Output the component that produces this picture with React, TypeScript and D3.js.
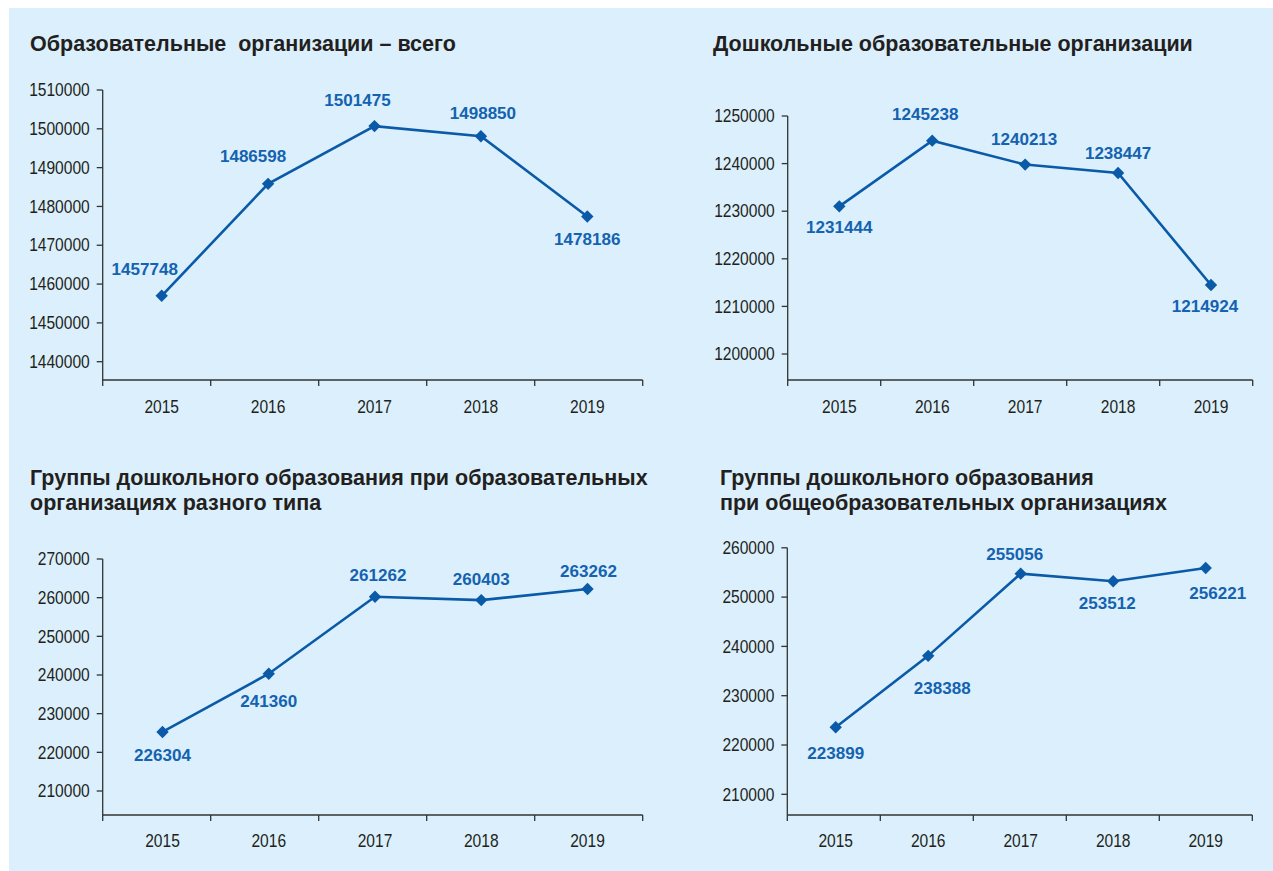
import React from 'react';
import * as d3 from 'd3';

const years = ['2015', '2016', '2017', '2018', '2019'];

const totalOrgs = [1457748, 1486598, 1501475, 1498850, 1478186];
const preschoolOrgs = [1231444, 1245238, 1240213, 1238447, 1214924];
const groupsVarious = [226304, 241360, 261262, 260403, 263262];
const groupsGeneral = [223899, 238388, 255056, 253512, 256221];

const ticksTotal = [1440000, 1450000, 1460000, 1470000, 1480000, 1490000, 1500000, 1510000];
const ticksPreschool = [1200000, 1210000, 1220000, 1230000, 1240000, 1250000];
const ticksVarious = [210000, 220000, 230000, 240000, 250000, 260000, 270000];
const ticksGeneral = [210000, 220000, 230000, 240000, 250000, 260000];

const titleTotal = ['Образовательные  организации – всего'];
const titlePreschool = ['Дошкольные образовательные организации'];
const titleVarious = ['Группы дошкольного образования при образовательных', 'организациях разного типа'];
const titleGeneral = ['Группы дошкольного образования', 'при общеобразовательных организациях'];

const BG = '#dbf0fc';
const LINE = '#0a5aa8';
const LABEL = '#1462b0';
const TEXT = '#231f20';
const FONT = '"Liberation Sans", Arial, Helvetica, sans-serif';

type Cfg = {
  title: string[];
  titleX: number;
  titleY: number;
  values: number[];
  ticks: number[];
  x0: number;
  x1: number;
  axisY: number;
  yRange: [number, number];
  pointRange: [number, number];
  lineDy: number;
  labelOff: [number, number][];
  yearY: number;
};

const charts: Cfg[] = [
  {
    title: titleTotal, titleX: 30, titleY: 51,
    values: totalOrgs, ticks: ticksTotal,
    x0: 102.7, x1: 642.7, axisY: 380, yRange: [361.7, 90],
    pointRange: [161.7, 587.3], lineDy: 3,
    labelOff: [[-17, -21], [-15, -22], [-17, -20], [2, -17], [0, 29]],
    yearY: 413,
  },
  {
    title: titlePreschool, titleX: 713, titleY: 51,
    values: preschoolOrgs, ticks: ticksPreschool,
    x0: 787.7, x1: 1252.7, axisY: 380, yRange: [354, 116],
    pointRange: [839.3, 1211], lineDy: 2,
    labelOff: [[0, 27], [-7, -21], [-1, -20], [0, -14], [-6, 27]],
    yearY: 413,
  },
  {
    title: titleVarious, titleX: 30, titleY: 485,
    values: groupsVarious, ticks: ticksVarious,
    x0: 102.7, x1: 642.7, axisY: 815, yRange: [791, 559],
    pointRange: [162.5, 587.5], lineDy: 4,
    labelOff: [[0, 29], [0, 33], [3, -16], [0, -15], [1, -12]],
    yearY: 847,
  },
  {
    title: titleGeneral, titleX: 720, titleY: 485,
    values: groupsGeneral, ticks: ticksGeneral,
    x0: 787.3, x1: 1252.3, axisY: 815, yRange: [794.3, 547.8],
    pointRange: [835.7, 1205.7], lineDy: 1.5,
    labelOff: [[0, 32], [14, 38], [-6, -14], [-6, 28], [12, 31]],
    yearY: 847,
  },
];

function SText({
  x, y, children, anchor = 'start', size = 16, weight = 'normal', fill = TEXT, sx = 1,
}: {
  x: number; y: number; children: React.ReactNode; anchor?: string; size?: number;
  weight?: string; fill?: string; sx?: number;
}) {
  return (
    <text
      transform={`translate(${x},${y}) scale(${sx},1)`}
      textAnchor={anchor}
      fontFamily={FONT}
      fontSize={size}
      fontWeight={weight}
      fill={fill}
      style={{ whiteSpace: 'pre' }}
    >
      {children}
    </text>
  );
}

function Chart({ c }: { c: Cfg }) {
  const yAxis = d3
    .scaleLinear()
    .domain([c.ticks[0], c.ticks[c.ticks.length - 1]])
    .range(c.yRange);
  const band = d3.scaleBand<string>().domain(years).range([c.x0, c.x1]).padding(0);
  const px = d3.scalePoint<string>().domain(years).range(c.pointRange);
  const py = (v: number) => yAxis(v) + c.lineDy;
  const line = d3
    .line<number>()
    .x((_, i) => px(years[i]) as number)
    .y((v) => py(v));
  const topY = yAxis(c.ticks[c.ticks.length - 1]);
  const boundaries = years.map((y) => band(y) as number).concat([c.x1]);
  const diamond = d3.symbol().type(d3.symbolDiamond2).size(98)();

  return (
    <g>
      {c.title.map((t, i) => (
        <SText key={i} x={c.titleX} y={c.titleY + i * 25} size={21.5} weight="bold">
          {t}
        </SText>
      ))}
      {/* y axis */}
      <line x1={c.x0} x2={c.x0} y1={topY} y2={c.axisY} stroke="#333" strokeWidth={1.3} />
      {c.ticks.map((t) => (
        <g key={t}>
          <line x1={c.x0 - 6} x2={c.x0} y1={yAxis(t)} y2={yAxis(t)} stroke="#333" strokeWidth={1.3} />
          <SText x={c.x0 - 13} y={yAxis(t) + 6.2} anchor="end" size={17.5} sx={0.89}>
            {t}
          </SText>
        </g>
      ))}
      {/* x axis */}
      <line x1={c.x0} x2={c.x1} y1={c.axisY} y2={c.axisY} stroke="#333" strokeWidth={1.3} />
      {boundaries.map((b, i) => (
        <line key={i} x1={b} x2={b} y1={c.axisY} y2={c.axisY + 6} stroke="#333" strokeWidth={1.3} />
      ))}
      {years.map((y) => (
        <SText key={y} x={px(y) as number} y={c.yearY} anchor="middle" size={17.5} sx={0.89}>
          {y}
        </SText>
      ))}
      {/* series */}
      <path d={line(c.values) || ''} fill="none" stroke={LINE} strokeWidth={2.6} />
      {c.values.map((v, i) => (
        <path
          key={i}
          d={diamond || ''}
          transform={`translate(${px(years[i])},${py(v)})`}
          fill={LINE}
        />
      ))}
      {c.values.map((v, i) => (
        <SText
          key={'l' + i}
          x={(px(years[i]) as number) + c.labelOff[i][0]}
          y={py(v) + c.labelOff[i][1]}
          anchor="middle"
          size={17.4}
          weight="bold"
          fill={LABEL}
          sx={0.98}
        >
          {v}
        </SText>
      ))}
    </g>
  );
}

export default function App() {
  return (
    <svg
      width={1273}
      height={871}
      style={{ position: 'absolute', left: 0, top: 0, display: 'block' }}
    >
      <rect x={0} y={0} width={1273} height={871} fill="#ffffff" />
      <rect x={9} y={8} width={1264} height={863} fill={BG} />
      {charts.map((c, i) => (
        <Chart key={i} c={c} />
      ))}
    </svg>
  );
}
